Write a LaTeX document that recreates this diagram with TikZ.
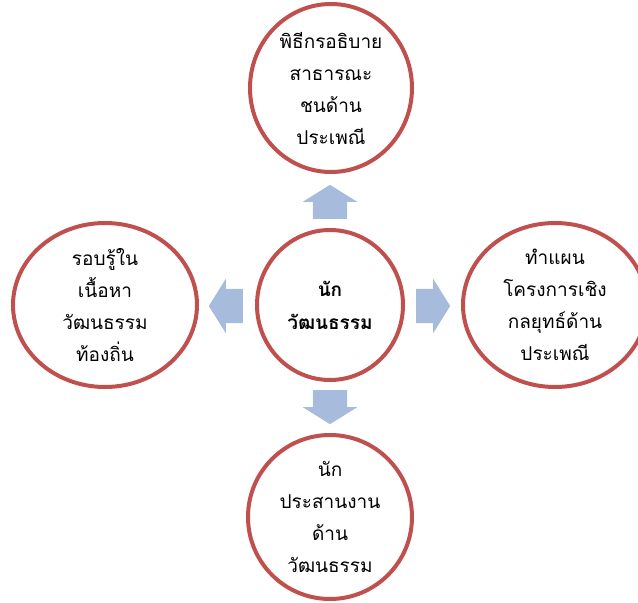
\documentclass[tikz,border=0pt]{standalone}
\usepackage{fontspec}
\newfontfamily\thaifont[Script=Thai]{Loma}
\usepackage{tikz}
\usetikzlibrary{shapes.geometric,shapes.arrows}
\definecolor{ringred}{RGB}{192,80,77}
\definecolor{arrowblue}{RGB}{167,188,220}
\tikzstyle{ring} = [ellipse, draw=ringred, line width=4pt, fill=white, align=center,
inner sep=-10pt, font=\thaifont\fontsize{19}{32}\selectfont]
\tikzstyle{bigarrow} = [single arrow, fill=arrowblue, anchor=tail, inner xsep=0pt,
inner ysep=17pt, single arrow head extend=10pt, single arrow tip angle=116, minimum height=34pt]

\begin{document}
\begin{tikzpicture}[x=1pt,y=-1pt]
        \useasboundingbox (0,0) rectangle (638,603);
        \node (ctr) [ring,minimum width=146pt,minimum height=150pt,font=\thaifont\bfseries\fontsize{19}{33}\selectfont] at (330,305) {นัก\\วัฒนธรรม};
        \node (host) [ring,minimum width=162pt,minimum height=168pt] at (331,88) {พิธีกรอธิบาย\\สาธารณะ\\ชนด้าน\\ประเพณี};
        \node (local) [ring,minimum width=184pt,minimum height=164pt] at (105,305) {รอบรู้ใน\\เนื้อหา\\วัฒนธรรม\\ท้องถิ่น};
        \node (plan) [ring,minimum width=184pt,minimum height=164pt] at (555,305) {ทำแผน\\โครงการเชิง\\กลยุทธ์ด้าน\\ประเพณี};
        \node (coord) [ring,minimum width=164pt,minimum height=164pt] at (330,517) {นัก\\ประสานงาน\\ด้าน\\วัฒนธรรม};
        %
        \node (toup) [bigarrow,rotate=90] at (330,219) {};
        \node (toleft) [bigarrow,rotate=180] at (243,306) {};
        \node (toright) [bigarrow] at (416,306) {};
        \node (todown) [bigarrow,rotate=270] at (330,390) {};
    \end{tikzpicture}
\end{document}
